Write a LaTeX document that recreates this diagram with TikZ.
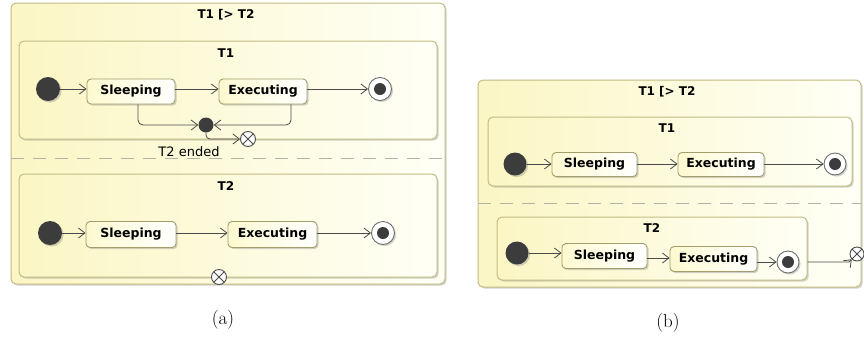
\documentclass[tikz,border=0pt]{standalone}
\usepackage{fontspec}
\setsansfont{DejaVu Sans}
\usetikzlibrary{arrows.meta,shadows}

\definecolor{yelL}{HTML}{FBF6C4}
\definecolor{yelR}{HTML}{FFFFF6}
\definecolor{frame}{HTML}{C2BC84}
\definecolor{stfill}{HTML}{FDFAD0}
\definecolor{stline}{HTML}{A49E6C}
\definecolor{lin}{HTML}{4A4A4A}
\definecolor{dot}{HTML}{3C3C3C}
\definecolor{sepc}{HTML}{B4B2A4}

\tikzset{
  shad/.style={drop shadow={shadow xshift=1.6pt, shadow yshift=-1.6pt, opacity=0.35, fill=gray}},
  container/.style={draw=frame, line width=1pt, rounded corners=5pt,
    left color=yelL, right color=yelR, inner sep=0pt, shad},
  statebox/.style={draw=stline, line width=0.9pt, rounded corners=4pt,
    left color=stfill, right color=white, inner sep=0pt, shad,
    font=\sffamily\bfseries\fontsize{12.5}{15}\selectfont},
  ttl/.style={font=\sffamily\bfseries\fontsize{12}{14}\selectfont, inner sep=0pt},
  initial/.style={circle, fill=dot, minimum size=24pt, inner sep=0pt, shad},
  finalst/.style={circle, draw=lin!80, line width=0.9pt, fill=white, minimum size=23pt,
    inner sep=0pt, shad,
    path picture={\fill[dot] (path picture bounding box.center) circle (6pt);}},
  joinpt/.style={circle, fill=dot, minimum size=15pt, inner sep=0pt},
  exitpt/.style={circle, draw=lin, line width=0.9pt, fill=white, minimum size=15pt,
    inner sep=0pt,
    path picture={\draw[lin, line width=0.9pt]
      (path picture bounding box.north west) -- (path picture bounding box.south east)
      (path picture bounding box.north east) -- (path picture bounding box.south west);}},
  tr/.style={draw=lin, line width=0.8pt, -{Straight Barb[length=6.5pt,width=10pt]}},
  sepline/.style={draw=sepc, line width=1pt, dash pattern=on 13pt off 9pt},
  captext/.style={font=\fontsize{19}{22}\selectfont, inner sep=0pt},
  lbl/.style={font=\sffamily\fontsize{13}{15}\selectfont, inner sep=0pt}
}

\begin{document}
\begin{tikzpicture}[x=1pt, y=-1pt]
\useasboundingbox (0,0) rectangle (864,341);

% ---------------- (a) ----------------
\node[container, minimum width=434pt, minimum height=281pt] (outA) at (228,143.5) {};
\node[ttl] (titleA) at (226,15) {T1 [> T2};

% region T1
\node[container, minimum width=418pt, minimum height=98pt] (regA1) at (228,90) {};
\node[ttl] (nameA1) at (226,53) {T1};
\node[initial] (iniA1) at (48,89) {};
\node[statebox, minimum width=88pt, minimum height=25pt] (slpA1) at (131,91.5) {Sleeping};
\node[statebox, minimum width=88pt, minimum height=25pt] (exeA1) at (263,91.5) {Executing};
\node[finalst] (finA1) at (380,89) {};
\node[joinpt] (joinA) at (206,125) {};
\node[exitpt] (exitA1) at (248,139) {};

\draw[tr] (iniA1.east) -- (iniA1.east -| slpA1.west);
\draw[tr] (slpA1.east |- iniA1) -- (exeA1.west |- iniA1);
\draw[tr] (exeA1.east |- finA1) -- (finA1.west);
\draw[tr, rounded corners=5pt] ([xshift=7pt]slpA1.south) |- (joinA.west);
\draw[tr, rounded corners=5pt] ([xshift=28pt]exeA1.south) |- (joinA.east);
\draw[tr, rounded corners=4pt] (joinA.south) |- (exitA1.west);
\node[lbl] (endedA) at (189,152) {T2 ended};

% separator
\coordinate (sepAl) at (11,158);
\coordinate (sepAr) at (445,158);
\draw[sepline] (sepAl) -- (sepAr);

% region T2
\node[container, minimum width=418pt, minimum height=103pt] (regA2) at (228,225.5) {};
\node[ttl] (nameA2) at (226,186) {T2};
\node[initial] (iniA2) at (50,233) {};
\node[statebox, minimum width=90pt, minimum height=26pt] (slpA2) at (131,234.5) {Sleeping};
\node[statebox, minimum width=89pt, minimum height=26pt] (exeA2) at (272.5,234.5) {Executing};
\node[finalst] (finA2) at (383,233) {};
\node[exitpt] (exitA2) at (219,277) {};

\draw[tr] (iniA2.east) -- (iniA2.east -| slpA2.west);
\draw[tr] (slpA2.east |- iniA2) -- (exeA2.west |- iniA2);
\draw[tr] (exeA2.east |- finA2) -- (finA2.west);

\node[captext] (capA) at (223,320) {(a)};

% ---------------- (b) ----------------
\node[container, minimum width=383pt, minimum height=207pt] (outB) at (669.5,183.5) {};
\node[ttl] (titleB) at (667,92) {T1 [> T2};

% region T1
\node[container, minimum width=364pt, minimum height=69pt] (regB1) at (670,151.5) {};
\node[ttl] (nameB1) at (667,128) {T1};
\node[initial, minimum size=23pt] (iniB1) at (515,164) {};
\node[statebox, minimum width=85pt, minimum height=24pt] (slpB1) at (594.5,164.5) {Sleeping};
\node[statebox, minimum width=86pt, minimum height=24pt] (exeB1) at (721,164.5) {Executing};
\node[finalst, minimum size=22pt] (finB1) at (835,164) {};

\draw[tr] (iniB1.east) -- (iniB1.east -| slpB1.west);
\draw[tr] (slpB1.east |- iniB1) -- (exeB1.west |- iniB1);
\draw[tr] (exeB1.east |- finB1) -- (finB1.west);

% separator
\coordinate (sepBl) at (478,203);
\coordinate (sepBr) at (861,203);
\draw[sepline] (sepBl) -- (sepBr);

% region T2
\node[container, minimum width=310pt, minimum height=63pt] (regB2) at (652,248.5) {};
\node[ttl] (nameB2) at (652,228) {T2};
\node[initial, minimum size=23pt] (iniB2) at (517,253) {};
\node[statebox, minimum width=85pt, minimum height=25pt] (slpB2) at (604.5,256) {Sleeping};
\node[statebox, minimum width=87pt, minimum height=25pt] (exeB2) at (713.5,259) {Executing};
\node[finalst, minimum size=22pt] (finB2) at (788,262) {};
\node[exitpt, minimum size=14pt] (exitB) at (857,254) {};

\draw[tr] (iniB2.east) -- (iniB2.east -| slpB2.west);
\draw[tr] ([yshift=-2pt]slpB2.east) -- ([yshift=-2pt]slpB2.east -| exeB2.west);
\draw[tr] (exeB2.east |- finB2) -- (finB2.west);
\coordinate (bendB) at (849,262);
\draw[tr] (regB2.east |- finB2) -- (bendB) -- (exitB);

\node[captext] (capB) at (668,323) {(b)};
\end{tikzpicture}
\end{document}
